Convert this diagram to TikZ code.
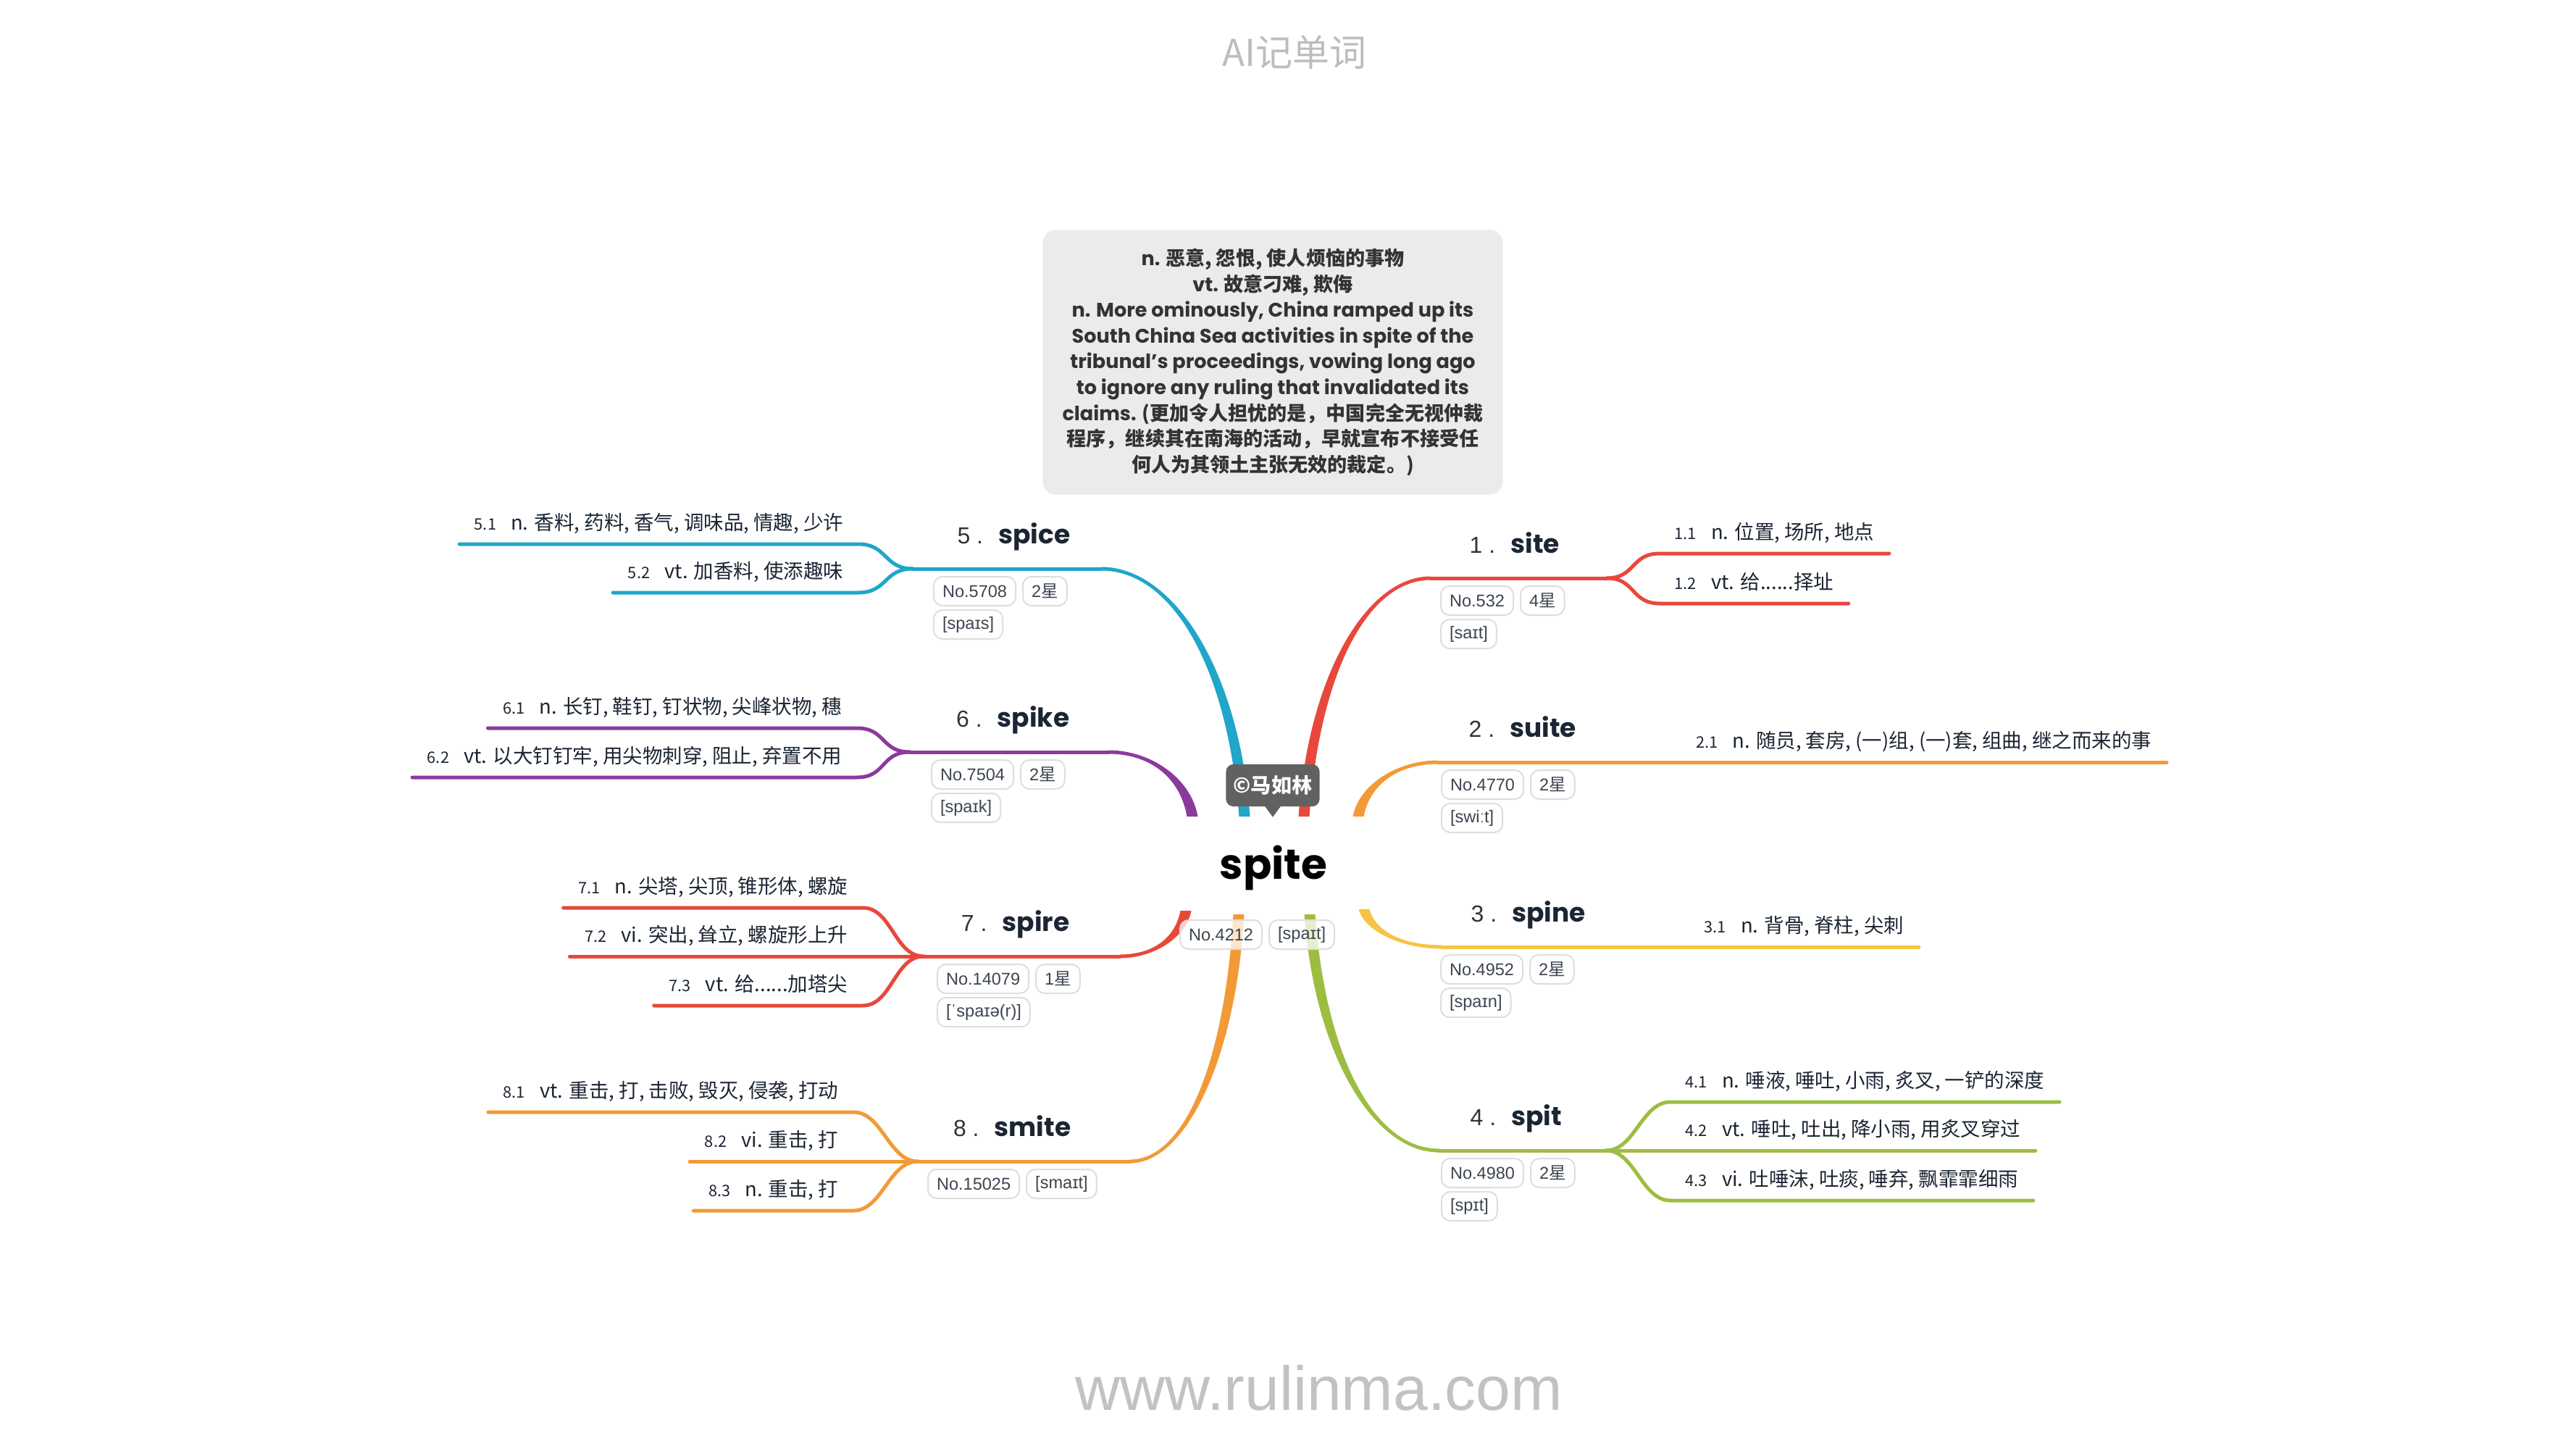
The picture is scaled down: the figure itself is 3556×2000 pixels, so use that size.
\documentclass[tikz,border=0pt]{standalone}
\usepackage{fontspec}
\setmainfont{Poppins}
\newfontfamily\zhfont{Noto Sans CJK SC}
\newfontfamily\tagfont{Liberation Sans}
\usetikzlibrary{positioning}

\definecolor{redb}{HTML}{E8483B}
\definecolor{orangeb}{HTML}{F29A36}
\definecolor{yellowb}{HTML}{F6C343}
\definecolor{greenb}{HTML}{9DBD42}
\definecolor{cyanb}{HTML}{1FA6C9}
\definecolor{purpleb}{HTML}{8B3A9C}
\definecolor{ink}{HTML}{1B2533}
\definecolor{numgray}{HTML}{333333}
\definecolor{tagline}{HTML}{DEDEDE}
\definecolor{tagtext}{HTML}{3C4550}
\definecolor{notegray}{HTML}{EBEBEB}
\definecolor{notetext}{HTML}{333333}
\definecolor{markgray}{HTML}{616161}
\definecolor{titlegray}{HTML}{BDBDBD}
\definecolor{urlgray}{HTML}{C2C2C2}

\newcommand\zh[1]{{\zhfont #1}}
\newcommand\snum[1]{{\fontsize{6.2}{7}\selectfont #1}\hspace{0.2cm}}
\newcommand\wlabel[2]{{\tagfont\color{numgray}\fontsize{9.1}{10}\selectfont #1 .}\hspace{0.21cm}{\bfseries\fontsize{10.24}{11}\selectfont #2}}
\newcommand\xing[1]{#1\zh{星}\hspace{0.13cm}}

% tapered trunk: colour, start x, start y, end x, end y
\newcommand\trunk[5]{%
  \pgfmathsetmacro\gX{(#4>#2) ? 1 : -1}%
  \pgfmathsetmacro\gY{(#3>#5) ? 1 : -1}%
  \pgfmathsetmacro\cAy{#3+0.6*(#5-#3)}%
  \pgfmathsetmacro\cBx{#2+0.5*(#4-#2)}%
  \pgfmathsetmacro\oSx{#2-(\gX)*7.5}\pgfmathsetmacro\iSx{#2+(\gX)*7.5}%
  \pgfmathsetmacro\oAx{#2+0.08*(#4-#2)-(\gX)*7.5}\pgfmathsetmacro\iAx{#2+0.08*(#4-#2)+(\gX)*7.5}%
  \pgfmathsetmacro\oEy{#5-(\gY)*2.5}\pgfmathsetmacro\iEy{#5+(\gY)*2.5}%
  \fill[fill=#1] (\oSx,#3) .. controls (\oAx,\cAy) and (\cBx,\oEy) .. (#4,\oEy)
    -- (#4,\iEy) .. controls (\cBx,\iEy) and (\iAx,\cAy) .. (\iSx,#3) -- cycle;}

\begin{document}
\begin{tikzpicture}[line cap=round, line join=round, x=0.01cm, y=-0.01cm,
  sense/.style={font=\zhfont\fontsize{7.82}{9}\selectfont, text=ink, inner xsep=0.2cm, inner ysep=0pt, text height=0.23cm, text depth=0.19cm},
  word/.style={inner sep=0pt, text=ink},
  tag/.style={draw=tagline, line width=0.02cm, rounded corners=0.12cm, fill=white, fill opacity=0.75, text opacity=1, text=tagtext, font=\tagfont\fontsize{6.7}{7}\selectfont, inner xsep=0.12cm, inner ysep=0pt, minimum height=0.4cm},
  stem/.style={line width=0.05cm, draw=#1},
  notebox/.style={fill=notegray, rounded corners=0.18cm, minimum width=6.35cm, minimum height=3.65cm, align=center, text=notetext, font=\bfseries\fontsize{7.7}{10.1}\selectfont},
  stamp/.style={fill=markgray, rounded corners=0.1cm, minimum width=1.29cm, minimum height=0.58cm, inner sep=0pt, text=white, font=\zhfont\bfseries\fontsize{8}{9}\selectfont}]
  \fill[white] (0,0) rectangle (3556,2000);
  \useasboundingbox (0,0) rectangle (3556,2000);

  % header, footer
  \node[font=\zhfont\fontsize{14.5}{16}\selectfont, text=titlegray] (title) at (1787,72) {AI记单词};
  \node[font=\tagfont\fontsize{24.4}{26}\selectfont, text=urlgray, anchor=base] (url) at (1821,1946) {www.rulinma.com};

  % note
  \node[notebox] (note) at (1757,500) {n. \zh{恶意, 怨恨, 使人烦恼的事物}\\ vt. \zh{故意刁难, 欺侮}\\
    n. More ominously, China ramped up its\\ South China Sea activities in spite of the\\
    tribunal’s proceedings, vowing long ago\\ to ignore any ruling that invalidated its\\
    claims. \zh{(更加令人担忧的是，中国完全无视仲裁}\\ \zh{程序，继续其在南海的活动，早就宣布不接受任}\\
    \zh{何人为其领土主张无效的裁定。)}};

  % trunks
  \foreach \c/\sx/\sy/\ex/\ey in {redb/1800/1127/1975/798, orangeb/1875/1127/1985/1052,
      yellowb/1883/1255/1990/1307, greenb/1808/1262/1986/1588, cyanb/1718/1127/1520/785,
      purpleb/1646/1127/1530/1038, redb/1637/1257/1546/1320, orangeb/1710/1262/1560/1603}
    \trunk{\c}{\sx}{\sy}{\ex}{\ey};

  \coordinate (e1) at (1975,798); \coordinate (j1) at (2218,798);
  \coordinate (e2) at (1985,1052);
  \coordinate (e3) at (1990,1307);
  \coordinate (e4) at (1986,1588); \coordinate (j4) at (2217,1588);
  \coordinate (e5) at (1520,785); \coordinate (j5) at (1260,785);
  \coordinate (e6) at (1530,1038); \coordinate (j6) at (1256,1038);
  \coordinate (e7) at (1546,1320); \coordinate (j7) at (1275,1320);
  \coordinate (e8) at (1560,1603); \coordinate (j8) at (1267,1603);

  % centre
  \node[font=\bfseries\fontsize{16.5}{18}\selectfont, anchor=base] (root) at (1758,1213) {spite};
  \node[tag, anchor=north west] (r1) at (1628,1269) {No.4212};
  \node[tag, right=0.08cm of r1] (r2) {[spaɪt]};
  \node[stamp] (stamp) at (1757,1084) {©马如林};
  \fill[markgray] ([xshift=-0.11cm,yshift=0.01cm]stamp.south) -- ([xshift=0.11cm,yshift=0.01cm]stamp.south) -- ([yshift=-0.14cm]stamp.south) -- cycle;

  % words
  \node[word, anchor=base west] (w1) at (2028,763) {\wlabel{1}{site}};
  \node[word, anchor=base west] (w2) at (2027,1017) {\wlabel{2}{suite}};
  \node[word, anchor=base west] (w3) at (2030,1272) {\wlabel{3}{spine}};
  \node[word, anchor=base west] (w4) at (2029,1553) {\wlabel{4}{spit}};
  \node[word, anchor=base east] (w5) at (1478,750) {\wlabel{5}{spice}};
  \node[word, anchor=base east] (w6) at (1477,1003) {\wlabel{6}{spike}};
  \node[word, anchor=base east] (w7) at (1477,1285) {\wlabel{7}{spire}};
  \node[word, anchor=base east] (w8) at (1479,1568) {\wlabel{8}{smite}};

  % tags
  \node[tag, anchor=north west] (t1a) at (1988,808) {No.532};
  \node[tag, right=0.08cm of t1a] (t1b) {\xing{4}};
  \node[tag, below=0.04cm of t1a.south west, anchor=north west] (t1c) {[saɪt]};
  \node[tag, anchor=north west] (t2a) at (1989,1062) {No.4770};
  \node[tag, right=0.08cm of t2a] (t2b) {\xing{2}};
  \node[tag, below=0.04cm of t2a.south west, anchor=north west] (t2c) {[swiːt]};
  \node[tag, anchor=north west] (t3a) at (1988,1317) {No.4952};
  \node[tag, right=0.08cm of t3a] (t3b) {\xing{2}};
  \node[tag, below=0.04cm of t3a.south west, anchor=north west] (t3c) {[spaɪn]};
  \node[tag, anchor=north west] (t4a) at (1989,1598) {No.4980};
  \node[tag, right=0.08cm of t4a] (t4b) {\xing{2}};
  \node[tag, below=0.04cm of t4a.south west, anchor=north west] (t4c) {[spɪt]};
  \node[tag, anchor=north west] (t5a) at (1288,795) {No.5708};
  \node[tag, right=0.08cm of t5a] (t5b) {\xing{2}};
  \node[tag, below=0.04cm of t5a.south west, anchor=north west] (t5c) {[spaɪs]};
  \node[tag, anchor=north west] (t6a) at (1285,1048) {No.7504};
  \node[tag, right=0.08cm of t6a] (t6b) {\xing{2}};
  \node[tag, below=0.04cm of t6a.south west, anchor=north west] (t6c) {[spaɪk]};
  \node[tag, anchor=north west] (t7a) at (1293,1330) {No.14079};
  \node[tag, right=0.08cm of t7a] (t7b) {\xing{1}};
  \node[tag, below=0.04cm of t7a.south west, anchor=north west] (t7c) {[ˈspaɪə(r)]};
  \node[tag, anchor=north west] (t8a) at (1280,1613) {No.15025};
  \node[tag, right=0.08cm of t8a] (t8b) {[smaɪt]};

  % senses
  \node[sense, anchor=south west] (s11) at (2291,764) {\snum{1.1}n. 位置, 场所, 地点};
  \node[sense, anchor=south west] (s12) at (2291,833) {\snum{1.2}vt. 给......择址};
  \node[sense, anchor=south east] (s21) at (2991,1052) {\snum{2.1}n. 随员, 套房, (一)组, (一)套, 组曲, 继之而来的事};
  \node[sense, anchor=south east] (s31) at (2649,1307) {\snum{3.1}n. 背骨, 脊柱, 尖刺};
  \node[sense, anchor=south west] (s41) at (2306,1521) {\snum{4.1}n. 唾液, 唾吐, 小雨, 炙叉, 一铲的深度};
  \node[sense, anchor=south west] (s42) at (2306,1588) {\snum{4.2}vt. 唾吐, 吐出, 降小雨, 用炙叉穿过};
  \node[sense, anchor=south west] (s43) at (2306,1657) {\snum{4.3}vi. 吐唾沫, 吐痰, 唾弃, 飘霏霏细雨};
  \node[sense, anchor=south east] (s51) at (1185,751) {\snum{5.1}n. 香料, 药料, 香气, 调味品, 情趣, 少许};
  \node[sense, anchor=south east] (s52) at (1185,818) {\snum{5.2}vt. 加香料, 使添趣味};
  \node[sense, anchor=south east] (s61) at (1183,1005) {\snum{6.1}n. 长钉, 鞋钉, 钉状物, 尖峰状物, 穗};
  \node[sense, anchor=south east] (s62) at (1183,1073) {\snum{6.2}vt. 以大钉钉牢, 用尖物刺穿, 阻止, 弃置不用};
  \node[sense, anchor=south east] (s71) at (1191,1253) {\snum{7.1}n. 尖塔, 尖顶, 锥形体, 螺旋};
  \node[sense, anchor=south east] (s72) at (1191,1320) {\snum{7.2}vi. 突出, 耸立, 螺旋形上升};
  \node[sense, anchor=south east] (s73) at (1191,1388) {\snum{7.3}vt. 给......加塔尖};
  \node[sense, anchor=south east] (s81) at (1178,1535) {\snum{8.1}vt. 重击, 打, 击败, 毁灭, 侵袭, 打动};
  \node[sense, anchor=south east] (s82) at (1178,1603) {\snum{8.2}vi. 重击, 打};
  \node[sense, anchor=south east] (s83) at (1178,1671) {\snum{8.3}n. 重击, 打};

  % branch lines
  \draw[stem=redb] (e1) -- (j1);
  \draw[stem=redb] (j1) .. controls +(40,0) and +(-40,0) .. (s11.south west) -- (s11.south east);
  \draw[stem=redb] (j1) .. controls +(40,0) and +(-40,0) .. (s12.south west) -- (s12.south east);
  \draw[stem=orangeb] (e2) -- (s21.south east);
  \draw[stem=yellowb] (e3) -- (s31.south east);
  \draw[stem=greenb] (e4) -- (j4) -- (s42.south east);
  \draw[stem=greenb] (j4) .. controls +(40,0) and +(-40,0) .. (s41.south west) -- (s41.south east);
  \draw[stem=greenb] (j4) .. controls +(40,0) and +(-40,0) .. (s43.south west) -- (s43.south east);
  \draw[stem=cyanb] (e5) -- (j5);
  \draw[stem=cyanb] (j5) .. controls +(-40,0) and +(40,0) .. (s51.south east) -- (s51.south west);
  \draw[stem=cyanb] (j5) .. controls +(-40,0) and +(40,0) .. (s52.south east) -- (s52.south west);
  \draw[stem=purpleb] (e6) -- (j6);
  \draw[stem=purpleb] (j6) .. controls +(-40,0) and +(40,0) .. (s61.south east) -- (s61.south west);
  \draw[stem=purpleb] (j6) .. controls +(-40,0) and +(40,0) .. (s62.south east) -- (s62.south west);
  \draw[stem=redb] (e7) -- (j7) -- (s72.south west);
  \draw[stem=redb] (j7) .. controls +(-40,0) and +(40,0) .. (s71.south east) -- (s71.south west);
  \draw[stem=redb] (j7) .. controls +(-40,0) and +(40,0) .. (s73.south east) -- (s73.south west);
  \draw[stem=orangeb] (e8) -- (j8) -- (s82.south west);
  \draw[stem=orangeb] (j8) .. controls +(-40,0) and +(40,0) .. (s81.south east) -- (s81.south west);
  \draw[stem=orangeb] (j8) .. controls +(-40,0) and +(40,0) .. (s83.south east) -- (s83.south west);
\end{tikzpicture}
\end{document}
